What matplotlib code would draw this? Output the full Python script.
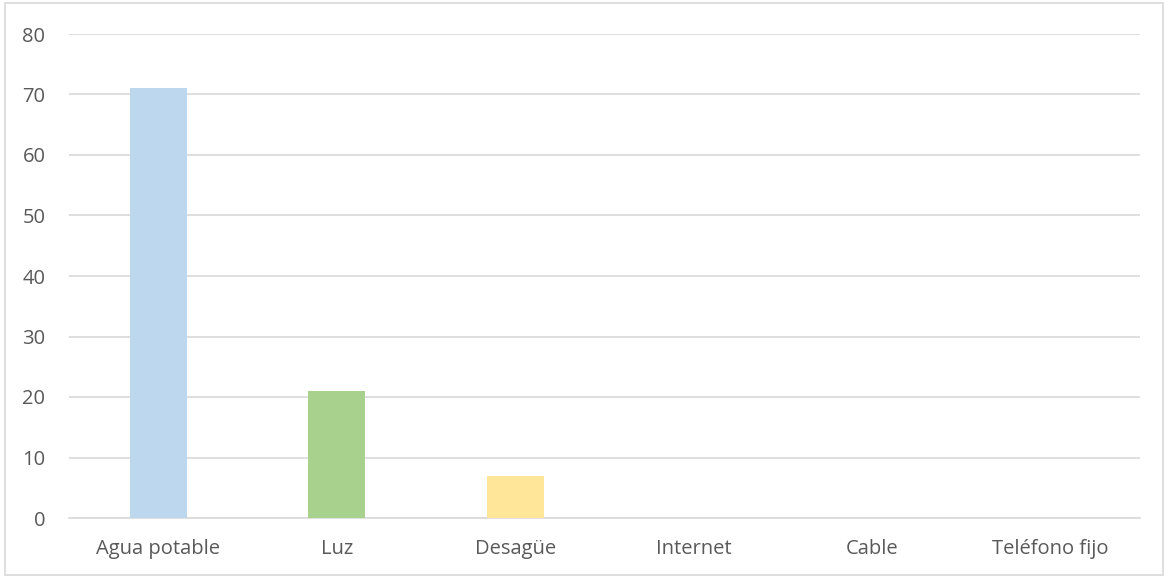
import matplotlib
matplotlib.use("Agg")
import matplotlib.pyplot as plt
from matplotlib.patches import Rectangle

# Data
categories = ["Agua potable", "Luz", "Desagüe", "Internet", "Cable", "Teléfono fijo"]
values = [71, 21, 7, 0, 0, 0]
bar_colors = ["#BDD7EE", "#A9D18E", "#FFE699", "#BDD7EE", "#A9D18E", "#FFE699"]
yticks = [0, 10, 20, 30, 40, 50, 60, 70, 80]

plt.rcParams["font.family"] = ["Open Sans", "DejaVu Sans"]

fig = plt.figure(figsize=(11.69, 5.78), dpi=100)
ax = fig.add_axes([69 / 1169, 60 / 578, (1140 - 69) / 1169, (518 - 34) / 578])

x = range(len(categories))
ax.bar(x, values, width=0.32, color=bar_colors, zorder=3)

ax.set_xlim(-0.5, len(categories) - 0.5)
ax.set_ylim(0, 80)
ax.set_yticks(yticks)
ax.set_xticks(list(x))
ax.set_xticklabels(categories)
ax.grid(axis="y", color="#D9D9D9", linewidth=1.2, zorder=0)
ax.tick_params(axis="both", length=0, labelsize=14.5, colors="#595959")
ax.tick_params(axis="x", pad=15)
ax.tick_params(axis="y", pad=17)
for s in ["top", "right", "left"]:
    ax.spines[s].set_visible(False)
ax.spines["bottom"].set_color("#D9D9D9")
ax.spines["bottom"].set_linewidth(1.2)

# chart border
fig.patches.append(Rectangle((5 / 1169, 3 / 578), 1158 / 1169, 572 / 578,
                             transform=fig.transFigure, fill=False,
                             edgecolor="#D9D9D9", linewidth=1.2))

fig.savefig("out.png", dpi=100)
